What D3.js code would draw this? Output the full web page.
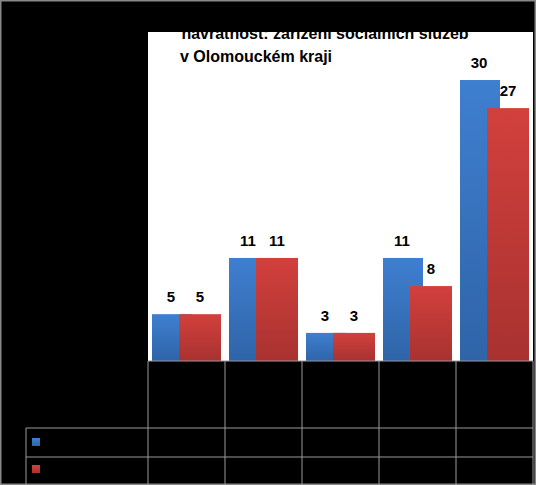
<!DOCTYPE html>
<html><head><meta charset="utf-8">
<script src="https://cdn.jsdelivr.net/npm/d3@7"></script>
<style>body{margin:0;background:#000}</style>
</head><body>
<svg id="c" width="536" height="485"></svg>
<script>
var categories = ["A", "B", "C", "D", "E"];
var series1 = [5, 11, 3, 11, 30];
var series2 = [5, 11, 3, 8, 27];

var svg = d3.select("#c");
svg.append("rect").attr("width", 536).attr("height", 485).attr("fill", "#000")
  .attr("stroke", "#888").attr("stroke-width", 3);

var defs = svg.append("defs");
function grad(id, c1, c2) {
  var g = defs.append("linearGradient").attr("id", id).attr("x1", 0).attr("y1", 0).attr("x2", 0).attr("y2", 1);
  g.append("stop").attr("offset", "0%").attr("stop-color", c1);
  g.append("stop").attr("offset", "100%").attr("stop-color", c2);
}
grad("gb", "#3f7fd0", "#2f64a8");
grad("gr", "#d2403c", "#a83230");

var plotLeft = 148, plotRight = 533, plotTop = 32, base = 361;
svg.append("rect").attr("x", plotLeft).attr("y", plotTop).attr("width", plotRight - plotLeft).attr("height", base - plotTop).attr("fill", "#fff");

var x = d3.scaleBand().domain(categories).range([plotLeft, plotRight]);
var y = d3.scaleLinear().domain([0, 30]).range([base, base - 281]);

// title (top clipped by black band)
svg.append("text").attr("x", 325).attr("y", 39).attr("text-anchor", "middle")
  .attr("font-family", "Liberation Sans, Arial").attr("font-weight", "bold").attr("font-size", 16)
  .text("návratnost: zařízení sociálních služeb");
svg.append("text").attr("x", 180).attr("y", 62)
  .attr("font-family", "Liberation Sans, Arial").attr("font-weight", "bold").attr("font-size", 16)
  .text("v Olomouckém kraji");
svg.append("rect").attr("x", plotLeft).attr("y", 2).attr("width", plotRight - plotLeft).attr("height", plotTop - 2).attr("fill", "#000");

var bw = 40;
var g = svg.append("g");
g.selectAll(".b").data(categories).join("rect")
  .attr("x", d => x(d) + 4).attr("y", (d, i) => y(series1[i]))
  .attr("width", bw).attr("height", (d, i) => base - y(series1[i])).attr("fill", "url(#gb)");
g.selectAll(".r").data(categories).join("rect")
  .attr("x", d => x(d) + 31).attr("y", (d, i) => y(series2[i]))
  .attr("width", bw + 2).attr("height", (d, i) => base - y(series2[i])).attr("fill", "url(#gr)");

function labels(data, off) {
  svg.append("g").selectAll("text").data(categories).join("text")
    .attr("x", d => x(d) + off).attr("y", (d, i) => y(data[i]) - 12)
    .attr("font-family", "Liberation Sans, Arial").attr("font-weight", "bold").attr("font-size", 15)
    .attr("text-anchor", "middle").text((d, i) => data[i]);
}
labels(series1, 23);
labels(series2, 52);

// data table grid
var grid = svg.append("g").attr("stroke", "#999").attr("stroke-width", 1);
x.domain().forEach(d => grid.append("line").attr("x1", x(d)).attr("x2", x(d)).attr("y1", base).attr("y2", 485));
grid.append("line").attr("x1", plotRight).attr("x2", plotRight).attr("y1", base).attr("y2", 485);
grid.append("line").attr("x1", plotLeft).attr("x2", plotRight).attr("y1", base).attr("y2", base);
grid.append("line").attr("x1", 26).attr("x2", plotRight).attr("y1", 428).attr("y2", 428);
grid.append("line").attr("x1", 26).attr("x2", plotRight).attr("y1", 457).attr("y2", 457);
grid.append("line").attr("x1", 26).attr("x2", 26).attr("y1", 428).attr("y2", 485);
svg.append("rect").attr("x", 32).attr("y", 438).attr("width", 8).attr("height", 8).attr("fill", "url(#gb)");
svg.append("rect").attr("x", 32).attr("y", 465).attr("width", 8).attr("height", 8).attr("fill", "url(#gr)");
</script>
</body></html>
